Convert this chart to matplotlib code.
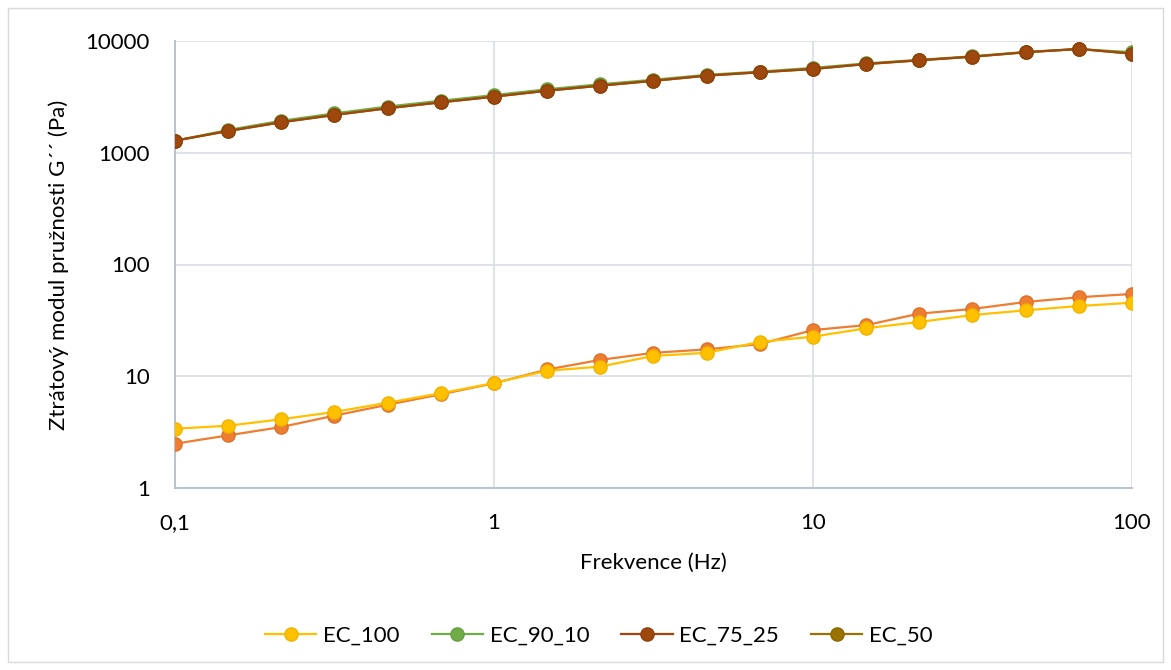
import matplotlib
matplotlib.use("Agg")
import matplotlib.pyplot as plt
from matplotlib.patches import Rectangle
from matplotlib.ticker import FixedLocator, NullLocator

# frequency sweep, 6 points per decade
freq = [0.1, 0.147, 0.215, 0.316, 0.464, 0.681, 1.0, 1.47, 2.15, 3.16,
        4.64, 6.81, 10.0, 14.7, 21.5, 31.6, 46.4, 68.1, 100.0]

ec_100 = [3.39, 3.61, 4.12, 4.79, 5.80, 7.04, 8.70, 11.2, 12.2, 15.2,
          16.2, 20.3, 22.6, 26.9, 30.6, 35.3, 38.9, 42.5, 45.5]
ec_90_10 = [1282, 1600, 1930, 2250, 2590, 2920, 3280, 3700, 4100, 4500,
            4980, 5320, 5750, 6300, 6780, 7300, 7980, 8450, 7950]
ec_75_25 = [1282, 1566, 1873, 2178, 2500, 2826, 3176, 3591, 3981, 4400,
            4894, 5250, 5614, 6225, 6717, 7240, 7926, 8496, 7698]
ec_50 = ec_75_25
ec_extra = [2.49, 2.96, 3.51, 4.44, 5.56, 6.89, 8.65, 11.5, 14.0, 16.2,
            17.4, 19.4, 25.9, 28.7, 36.3, 40.0, 46.2, 50.9, 54.5]

x_ticks = [0.1, 1, 10, 100]
x_labels = ["0,1", "1", "10", "100"]
y_ticks = [1, 10, 100, 1000, 10000]
y_labels = ["1", "10", "100", "1000", "10000"]

plt.rcParams["font.family"] = ["Lato", "DejaVu Sans"]
FS = 16

fig = plt.figure(figsize=(11.71, 6.70), dpi=100)
W, H = 1171, 670
ax = fig.add_axes([175 / W, 1 - 488 / H, (1132 - 175) / W, (488 - 41) / H])

# chart area border
fig.patches.append(Rectangle((8 / W, 8 / H), (1163 - 8) / W, (662 - 8) / H,
                             transform=fig.transFigure, fill=False,
                             edgecolor="#D9D9D9", linewidth=1.0))

ms = 9.5
lw = 1.6
ax.plot(freq, ec_extra, color="#ED7D31", marker="o", ms=ms, lw=lw,
        mec="#E0702A", label="_nolegend_", zorder=3)
ax.plot(freq, ec_100, color="#FFC000", marker="o", ms=ms, lw=lw,
        mec="#F0B400", label="EC_100", zorder=4)
ax.plot(freq, ec_90_10, color="#70AD47", marker="o", ms=ms, lw=lw,
        mec="#66A040", label="EC_90_10", zorder=3)
ax.plot(freq, ec_50, color="#997300", marker="o", ms=ms, lw=lw,
        mec="#8C6900", label="EC_50", zorder=3.5)
ax.plot(freq, ec_75_25, color="#9E480E", marker="o", ms=ms, lw=lw,
        mec="#8E400C", label="EC_75_25", zorder=4)

ax.set_xscale("log")
ax.set_yscale("log")
ax.set_xlim(0.1, 100)
ax.set_ylim(1, 10000)
ax.xaxis.set_major_locator(FixedLocator(x_ticks))
ax.xaxis.set_minor_locator(NullLocator())
ax.yaxis.set_major_locator(FixedLocator(y_ticks))
ax.yaxis.set_minor_locator(NullLocator())
ax.set_xticklabels(x_labels)
ax.set_yticklabels(y_labels)
ax.tick_params(axis="both", length=0, labelsize=FS, colors="#000000")
ax.tick_params(axis="x", pad=18)
ax.tick_params(axis="y", pad=18)

ax.grid(True, color="#D9DDE5", linewidth=1.2)
ax.set_axisbelow(True)
for side in ["top", "right"]:
    ax.spines[side].set_visible(False)
for side in ["left", "bottom"]:
    ax.spines[side].set_color("#B4BED0")
    ax.spines[side].set_linewidth(1.3)

ax.set_xlabel("Frekvence (Hz)", fontsize=FS, labelpad=14)
ax.set_ylabel("Ztrátový modul pružnosti G´´ (Pa)", fontsize=FS, labelpad=12)

handles, labels = ax.get_legend_handles_labels()
order = ["EC_100", "EC_90_10", "EC_75_25", "EC_50"]
hmap = dict(zip(labels, handles))
fig.legend([hmap[k] for k in order], order, loc="center",
           bbox_to_anchor=(599 / W, 1 - 636 / H), ncol=4, frameon=False,
           fontsize=FS, handlelength=2.3, columnspacing=1.45,
           handletextpad=0.3)

fig.savefig("out.png", dpi=100)
